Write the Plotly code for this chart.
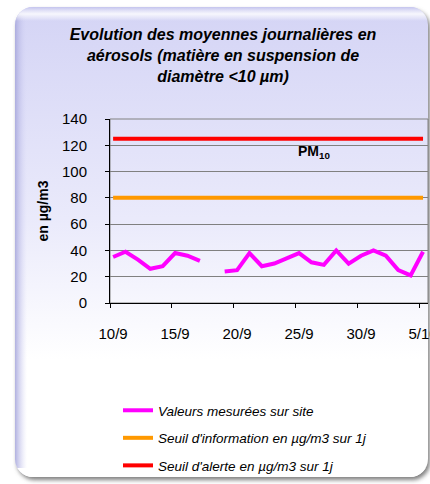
import base64
import plotly.graph_objects as go

dates = ["10/9", "11/9", "12/9", "13/9", "14/9", "15/9", "16/9", "17/9", "18/9",
         "19/9", "20/9", "21/9", "22/9", "23/9", "24/9", "25/9", "26/9", "27/9",
         "28/9", "29/9", "30/9", "1/10", "2/10", "3/10", "4/10", "5/10"]
mesures = [35, 39, 33, 26, 28, 38, 36, 32, None,
           24, 25, 38, 28, 30, 34, 38, 31, 29,
           40, 30, 36, 40, 36, 25, 21, 39]
seuil_info = [80] * len(dates)
seuil_alerte = [125] * len(dates)
tick_every = 5
y_ticks = [0, 20, 40, 60, 80, 100, 120, 140]

names = ["Valeurs mesurées sur site",
         "Seuil d'information en µg/m3 sur 1j",
         "Seuil d'alerte en µg/m3 sur 1j"]
colors = ["#ff00ff", "#ff9900", "#ff0000"]

W, H = 430, 484
L, R, T, B = 110, 2, 119, 181
pw, ph = W - L - R, H - T - B

x = list(range(len(dates)))

fig = go.Figure()
for i, ys in enumerate([mesures, seuil_info, seuil_alerte]):
    fig.add_trace(go.Scatter(
        x=x, y=ys, mode="lines", name=names[i], legendgroup=str(i),
        line=dict(color=colors[i], width=4), connectgaps=False,
        hoverinfo="x+y"))

# background panel as svg image
svg = f'''<svg xmlns="http://www.w3.org/2000/svg" width="{W}" height="{H}" viewBox="0 0 {W} {H}">
<defs>
<linearGradient id="g" x1="0" y1="0" x2="0" y2="1">
<stop offset="0" stop-color="#d4d4f5"/>
<stop offset="0.45" stop-color="#eaeafb"/>
<stop offset="0.75" stop-color="#ffffff"/>
<stop offset="1" stop-color="#ffffff"/>
</linearGradient>
<linearGradient id="lb" x1="0" y1="0" x2="1" y2="0">
<stop offset="0" stop-color="#a8a8dc" stop-opacity="0.9"/>
<stop offset="1" stop-color="#d6d6f6" stop-opacity="0"/>
</linearGradient>
<linearGradient id="tb" x1="0" y1="0" x2="0" y2="1">
<stop offset="0" stop-color="#c4c4ee" stop-opacity="1"/>
<stop offset="0.5" stop-color="#ffffff" stop-opacity="0.8"/>
<stop offset="1" stop-color="#ffffff" stop-opacity="0"/>
</linearGradient>
<filter id="blur" x="-10%" y="-10%" width="120%" height="120%"><feGaussianBlur stdDeviation="2"/></filter>
<clipPath id="c"><rect x="15" y="7" width="413" height="470" rx="18" ry="18"/></clipPath>
</defs>
<rect x="0" y="0" width="{W}" height="{H}" fill="#ffffff"/>
<rect x="17" y="10" width="413" height="470" rx="18" ry="18" fill="#808080" filter="url(#blur)"/>
<rect x="15" y="7" width="413" height="470" rx="18" ry="18" fill="url(#g)"/>
<g clip-path="url(#c)">
<rect x="15" y="7" width="12" height="470" fill="url(#lb)"/>
<rect x="15" y="7" width="413" height="14" fill="url(#tb)"/>
<rect x="15" y="468" width="413" height="9" fill="#ffffff"/>
</g>
</svg>'''
src = "data:image/svg+xml;base64," + base64.b64encode(svg.encode()).decode()
fig.add_layout_image(dict(source=src, xref="paper", yref="paper",
                          x=-L / pw, y=1 + T / ph, sizex=W / pw, sizey=H / ph,
                          xanchor="left", yanchor="top", sizing="stretch",
                          layer="below"))

# plot frame (grey top/right)
fig.add_shape(type="rect", xref="paper", yref="paper", x0=0, y0=0, x1=1, y1=1,
              line=dict(color="#808080", width=1), layer="below")

fig.add_annotation(x=16.2, y=115, xref="x", yref="y", text="<b>PM<sub>10</sub></b>",
                   showarrow=False, font=dict(family="Liberation Sans, Arial", size=14, color="black"))

major = x[::tick_every]
minor_pos = [max(v - 0.3, -0.25) for v in major]

fig.update_layout(
    width=W, height=H,
    margin=dict(l=L, r=R, t=T, b=B, pad=0, autoexpand=False),
    paper_bgcolor="rgba(0,0,0,0)", plot_bgcolor="rgba(0,0,0,0)",
    font=dict(family="Liberation Sans, Arial", color="black", size=14),
    title=dict(text="Evolution des moyennes journalières en<br>aérosols (matière en suspension de<br>diamètre &lt;10 µm)",
               x=223 / W, xanchor="center", y=1 - 40 / H, yanchor="top", yref="container",
               font=dict(size=16, weight="bold", style="italic", color="black")),
    showlegend=True,
    legend=dict(x=(118 - L) / pw, y=1 - (395 - T) / ph, xanchor="left", yanchor="top",
                bgcolor="rgba(0,0,0,0)", tracegroupgap=7,
                font=dict(size=13.5, style="italic", color="black")),
    xaxis=dict(range=[-0.25, 25.4], tickvals=major, ticktext=[dates[i] for i in major],
               ticks="", showgrid=False, zeroline=False, showline=True, linecolor="black",
               linewidth=1, ticklabelstandoff=17, tickfont=dict(size=15),
               ticklabeloverflow="allow", automargin=False,
               minor=dict(tickvals=minor_pos, ticks="outside", ticklen=4, tickcolor="black",
                          showgrid=False)),
    yaxis=dict(range=[0, 140], tickvals=y_ticks, ticks="outside", ticklen=4, tickcolor="black",
               showgrid=True, gridcolor="#808080", gridwidth=1, zeroline=False,
               showline=True, linecolor="black", linewidth=1, ticklabelstandoff=15,
               tickfont=dict(size=15), automargin=False,
               title=dict(text="en µg/m3", standoff=10, font=dict(size=14, weight="bold"))),
)

fig.write_html("out.html", config={"displayModeBar": False},
               post_script="document.body.style.margin='0px';document.body.style.overflow='hidden';")
